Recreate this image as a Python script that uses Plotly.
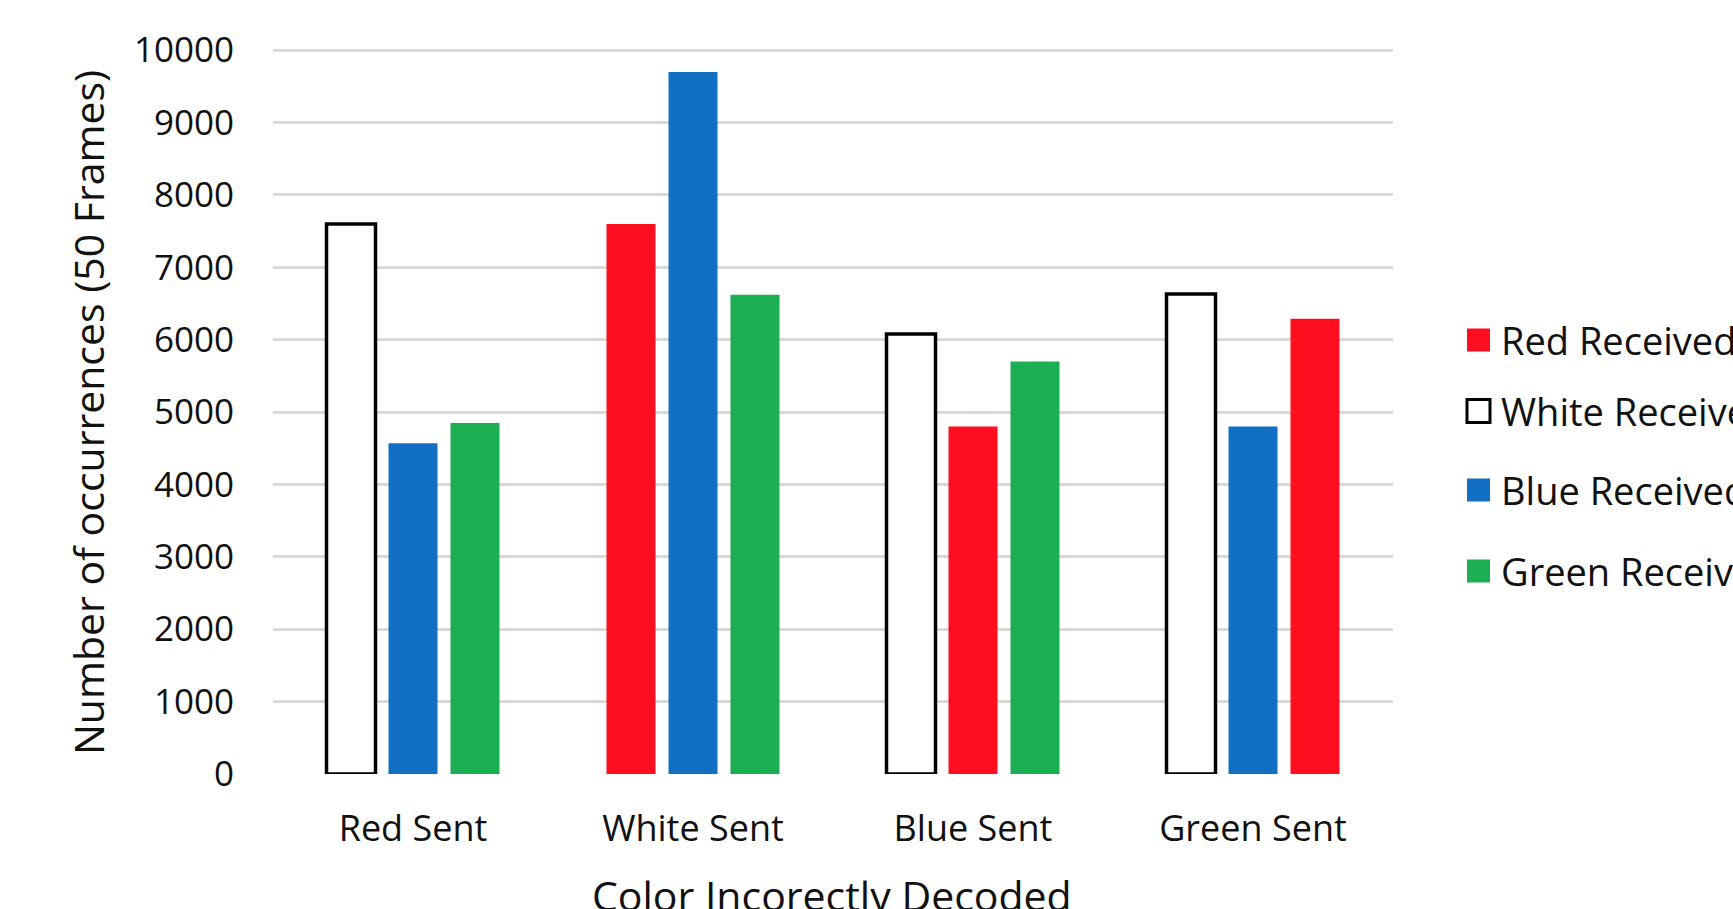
import plotly.graph_objects as go

# Categories along the x axis (the colour that was sent)
categories = ["Red Sent", "White Sent", "Blue Sent", "Green Sent"]

# Received-colour series; None where the received colour equals the sent one
series_names = ["Red Received", "White Received", "Blue Received", "Green Received"]
red_received = [None, 7600, 4800, 6290]
white_received = [7600, None, 6080, 6630]
blue_received = [4570, 9700, None, 4800]
green_received = [4850, 6620, 5700, None]

# Left-to-right order of the three bars inside each category group
bar_order = [
    ["White Received", "Blue Received", "Green Received"],
    ["Red Received", "Blue Received", "Green Received"],
    ["White Received", "Red Received", "Green Received"],
    ["White Received", "Blue Received", "Red Received"],
]

y_ticks = [0, 1000, 2000, 3000, 4000, 5000, 6000, 7000, 8000, 9000, 10000]

values = dict(zip(series_names, [red_received, white_received, blue_received, green_received]))
styles = {
    "Red Received": dict(fill="#FF0E1F", line="#FF0E1F", lw=0),
    "White Received": dict(fill="#FFFFFF", line="#000000", lw=3.5),
    "Blue Received": dict(fill="#1170C3", line="#1170C3", lw=0),
    "Green Received": dict(fill="#1CAE52", line="#1CAE52", lw=0),
}

SLOT_STEP = 0.2214
BAR_WIDTH = 0.175
FONT = "Open Sans"
TEXT = "#111111"

fig = go.Figure()
for name in series_names:
    xs, ys = [], []
    for ci, order in enumerate(bar_order):
        if name in order:
            slot = order.index(name)
            xs.append(ci + (slot - 1) * SLOT_STEP)
            ys.append(values[name][ci])
    st = styles[name]
    fig.add_trace(go.Bar(
        x=xs, y=ys, name=name, width=BAR_WIDTH,
        marker=dict(color=st["fill"], line=dict(color=st["line"], width=st["lw"])),
        showlegend=False,
    ))

W, H = 1733, 909
Y_MAX = 10030  # a little headroom so the 10000 gridline is drawn
ML, MR, MT, MB = 273, 340, 48, 135
PW, PH = W - ML - MR, H - MT - MB


def px_x(p):
    return (p - ML) / PW


def px_y(p):
    return (H - MB - p) / PH


shapes = []
annotations = []

# Legend built from the series list
legend_rows = [340, 411, 490, 571]
for name, cy in zip(series_names, legend_rows):
    st = styles[name]
    half = 11.5
    shapes.append(dict(
        type="rect", xref="paper", yref="paper",
        x0=px_x(1467), x1=px_x(1490), y0=px_y(cy + half), y1=px_y(cy - half),
        fillcolor=st["fill"],
        line=dict(color=st["line"], width=3 if st["lw"] else 0),
    ))
    annotations.append(dict(
        text=name, xref="paper", yref="paper", x=px_x(1499), y=px_y(cy),
        xanchor="left", yanchor="middle", showarrow=False,
        font=dict(family=FONT, size=38, color=TEXT),
    ))

# Axis titles
annotations.append(dict(
    text="Number of occurrences (50 Frames)", xref="paper", yref="paper",
    x=px_x(88), y=px_y(413), xanchor="center", yanchor="middle",
    textangle=-90, showarrow=False, font=dict(family=FONT, size=41, color=TEXT),
))
annotations.append(dict(
    text="Color Incorectly Decoded", xref="paper", yref="paper",
    x=px_x(832), y=px_y(895), xanchor="center", yanchor="middle",
    showarrow=False, font=dict(family=FONT, size=41, color=TEXT),
))

fig.update_layout(
    width=W, height=H,
    margin=dict(l=ML, r=MR, t=MT, b=MB, autoexpand=False),
    paper_bgcolor="white", plot_bgcolor="white",
    showlegend=False,
    barmode="overlay",
    font=dict(family=FONT, size=35, color=TEXT),
    shapes=shapes,
    annotations=annotations,
    xaxis=dict(
        range=[-0.5, 3.5], tickvals=list(range(len(categories))), ticktext=categories,
        showgrid=False, zeroline=False, showline=False, ticks="",
        ticklabelstandoff=30, tickfont=dict(family=FONT, size=36, color=TEXT),
    ),
    yaxis=dict(
        range=[0, Y_MAX], tickvals=y_ticks, ticktext=[str(v) for v in y_ticks],
        showgrid=True, gridcolor="#D9D9D9", gridwidth=2.5,
        zeroline=False, showline=False, ticks="",
        ticklabelstandoff=38, tickfont=dict(family=FONT, size=35, color=TEXT),
    ),
)

fig.write_html("out.html")
